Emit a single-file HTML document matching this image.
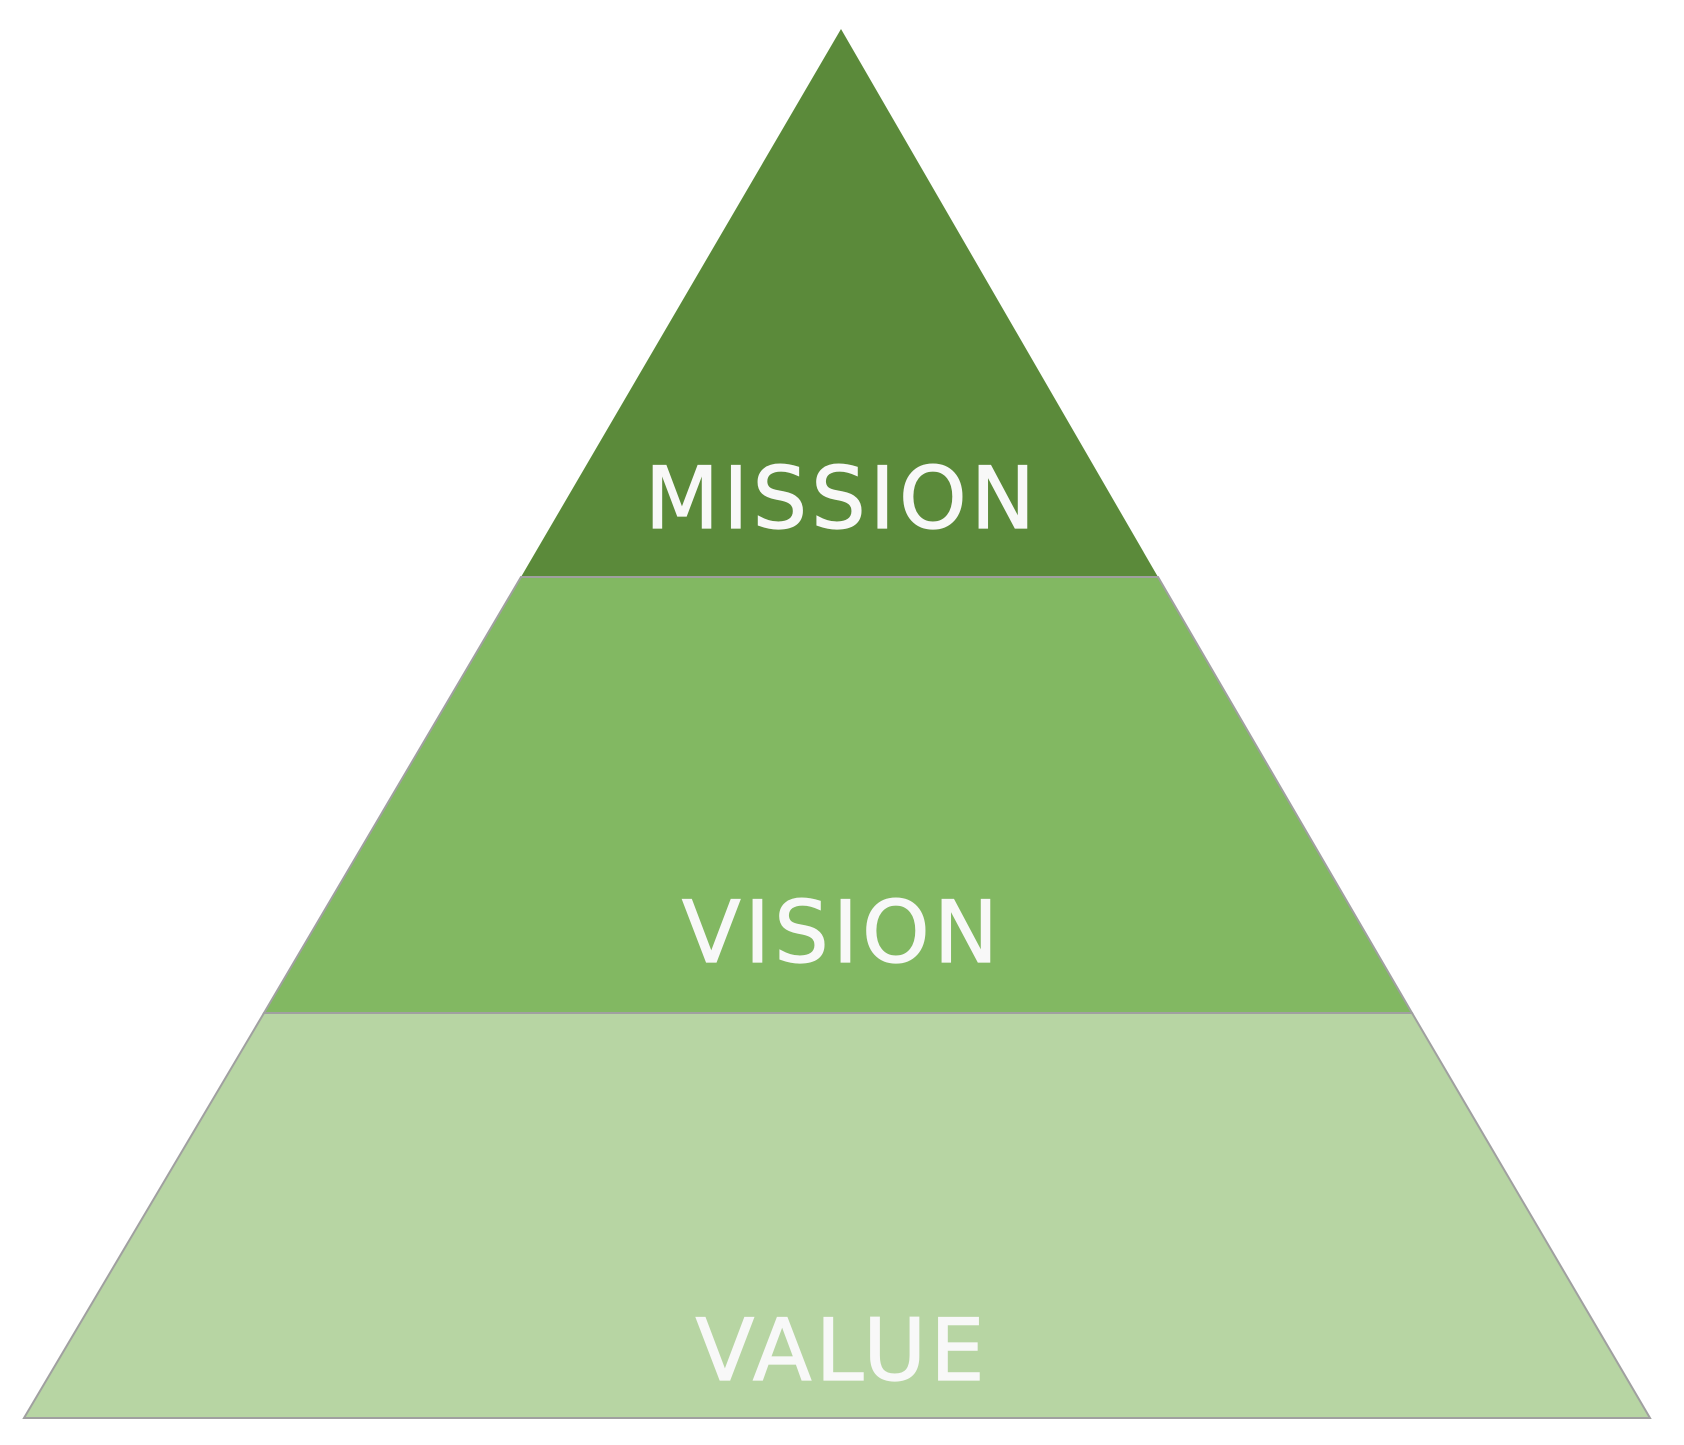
<!DOCTYPE html>
<html><head><style>
html,body{margin:0;padding:0;background:#fff;}
svg{display:block;}
text{font-family:"DejaVu Sans","Liberation Sans",sans-serif;fill:#f8f8f8;stroke:#f8f8f8;stroke-width:1.2px;text-anchor:middle;font-size:86px;letter-spacing:4px;}
</style></head><body>
<svg width="1684" height="1445" viewBox="0 0 1684 1445">
<polygon points="841,29 521,577 1158,577" fill="#5b8a3a"/>
<polygon points="521,577 1158,577 1412,1013 264,1013" fill="#82b862" stroke="#a0a0a0" stroke-width="2"/>
<polygon points="264,1013 1412,1013 1650,1418 24,1418" fill="#b7d5a3" stroke="#a0a0a0" stroke-width="2"/>
<text x="842" y="528">MISSION</text>
<text x="842" y="962">VISION</text>
<text x="842" y="1380">VALUE</text>
</svg>
</body></html>
